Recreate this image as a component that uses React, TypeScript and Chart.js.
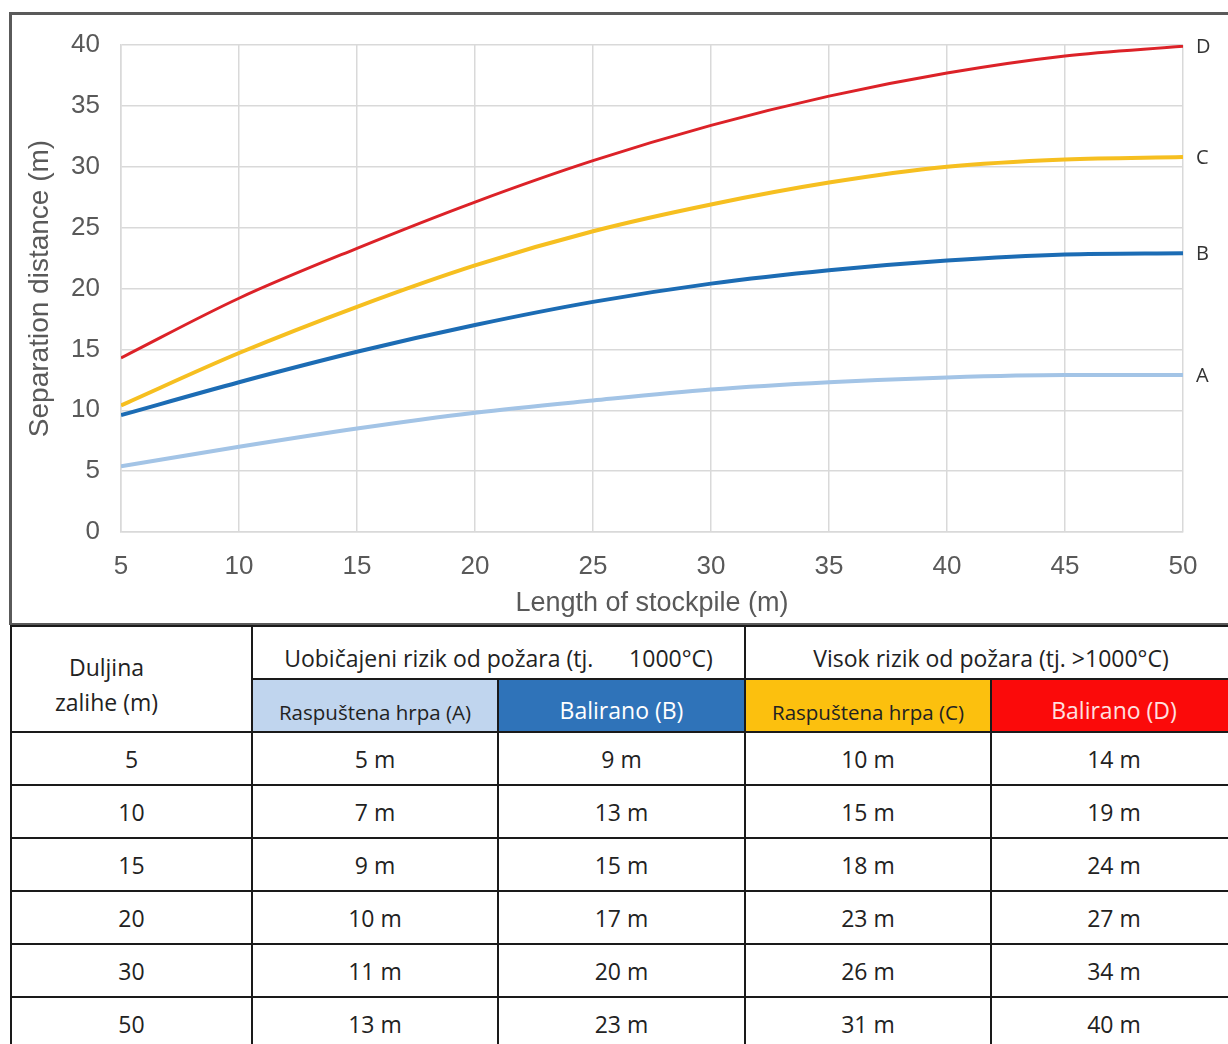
import React, { useEffect, useRef } from "react";
import { Chart, registerables } from "chart.js";

Chart.register(...registerables);

const xLengths = [5, 10, 15, 20, 25, 30, 35, 40, 45, 50];
const seriesA = [5.4, 7.0, 8.5, 9.8, 10.8, 11.7, 12.3, 12.7, 12.9, 12.9];
const seriesB = [9.6, 12.3, 14.8, 17.0, 18.9, 20.4, 21.5, 22.3, 22.8, 22.9];
const seriesC = [10.4, 14.7, 18.5, 21.9, 24.7, 26.9, 28.7, 30.0, 30.6, 30.8];
const seriesD = [14.3, 19.2, 23.3, 27.1, 30.5, 33.4, 35.8, 37.7, 39.1, 39.9];
const seriesLabels = ["A", "B", "C", "D"];

const tableLengths = ["5", "10", "15", "20", "30", "50"];
const tableA = ["5 m", "7 m", "9 m", "10 m", "11 m", "13 m"];
const tableB = ["9 m", "13 m", "15 m", "17 m", "20 m", "23 m"];
const tableC = ["10 m", "15 m", "18 m", "23 m", "26 m", "31 m"];
const tableD = ["14 m", "19 m", "24 m", "27 m", "34 m", "40 m"];

const endLabels = {
  id: "endLabels",
  afterDatasetsDraw(chart: any) {
    const ctx = chart.ctx;
    ctx.save();
    ctx.font = '20px "Open Sans"';
    ctx.fillStyle = "#333333";
    ctx.textBaseline = "middle";
    ctx.textAlign = "left";
    chart.data.datasets.forEach((ds: any, i: number) => {
      const meta = chart.getDatasetMeta(i);
      const pt = meta.data[meta.data.length - 1];
      if (pt) ctx.fillText(ds.label, pt.x + 13, pt.y + 1);
    });
    ctx.restore();
  },
};

function LineChart() {
  const ref = useRef<HTMLCanvasElement | null>(null);
  useEffect(() => {
    if (!ref.current) return;
    const mk = (vals: number[]) => vals.map((v, i) => ({ x: xLengths[i], y: v }));
    const chart = new Chart(ref.current, {
      type: "line",
      data: {
        datasets: [
          { label: seriesLabels[0], data: mk(seriesA), borderColor: "#a3c4e6", borderWidth: 4 },
          { label: seriesLabels[1], data: mk(seriesB), borderColor: "#1c6cb4", borderWidth: 4 },
          { label: seriesLabels[2], data: mk(seriesC), borderColor: "#f6bf20", borderWidth: 4 },
          { label: seriesLabels[3], data: mk(seriesD), borderColor: "#dc2228", borderWidth: 3 },
        ].map((d) => ({ ...d, pointRadius: 0, cubicInterpolationMode: "monotone", fill: false })),
      },
      options: {
        animation: false,
        responsive: true,
        maintainAspectRatio: false,
        layout: { padding: { top: 29, right: 45, left: 0, bottom: 0 } },
        plugins: { legend: { display: false }, tooltip: { enabled: false } },
        scales: {
          x: {
            type: "linear",
            min: 5,
            max: 50,
            ticks: { stepSize: 5, color: "#595959", font: { family: "Liberation Sans", size: 26 }, padding: 19, maxRotation: 0 },
            grid: { color: "#d9d9d9", drawTicks: false, lineWidth: 1.5 },
            border: { color: "#d9d9d9", width: 1.5 },
            title: { display: true, text: "Length of stockpile (m)", color: "#595959", font: { family: "Liberation Sans", size: 27 }, padding: { top: 0, bottom: 5 } },
            afterFit: (s: any) => { s.height = 93; },
          },
          y: {
            min: 0,
            max: 40,
            ticks: { stepSize: 5, color: "#595959", font: { family: "Liberation Sans", size: 26 }, padding: 12 },
            grid: { color: "#d9d9d9", drawTicks: true, tickLength: 9, tickColor: "rgba(0,0,0,0)", lineWidth: 1.5 },
            border: { color: "#d9d9d9", width: 1.5 },
            title: { display: true, text: "Separation distance (m)", color: "#595959", font: { family: "Liberation Sans", size: 28 }, padding: { top: 10, bottom: 0 } },
            afterFit: (s: any) => { s.width = 108; },
          },
        },
      },
      plugins: [endLabels],
    } as any);
    return () => chart.destroy();
  }, []);
  return <canvas ref={ref} />;
}

const cellBase: React.CSSProperties = {
  border: "2px solid #1a1a1a",
  textAlign: "center",
  padding: 0,
  color: "#222",
};

export default function App() {
  const colW = [241, 246, 247, 246, 246];
  const subHead = (bg: string, fg: string, text: string, size: number) => (
    <td style={{ ...cellBase, background: bg, color: fg, fontSize: size, verticalAlign: "bottom", paddingBottom: 5 }}>{text}</td>
  );
  return (
    <div style={{ position: "fixed", left: 0, top: 0, width: "100vw", height: "100vh", overflow: "hidden", background: "#fff" }}>
      <div
        style={{
          position: "absolute",
          left: 9,
          top: 12,
          width: 1260,
          height: 613,
          borderTop: "3px solid #5a5a5a",
          borderLeft: "3px solid #5a5a5a",
          borderBottom: "2px solid #5a5a5a",
          boxSizing: "border-box",
        }}
      />
      <div style={{ position: "absolute", left: 13, top: 16, width: 1215, height: 609 }}>
        <LineChart />
      </div>
      <table
        style={{
          position: "absolute",
          left: 10,
          top: 625,
          borderCollapse: "collapse",
          tableLayout: "fixed",
          width: colW.reduce((a, b) => a + b, 0),
          fontFamily: '"Open Sans", sans-serif',
          fontSize: 23,
        }}
      >
        <colgroup>
          {colW.map((w, i) => (
            <col key={i} style={{ width: w }} />
          ))}
        </colgroup>
        <tbody>
          <tr style={{ height: 53 }}>
            <td rowSpan={2} style={{ ...cellBase, lineHeight: "35px", paddingTop: 12, paddingRight: 50 }}>
              Duljina
              <br />
              zalihe (m)
            </td>
            <td colSpan={2} style={{ ...cellBase, verticalAlign: "bottom", paddingBottom: 4, whiteSpace: "pre" }}>
              {"Uobičajeni rizik od požara (tj.      1000°C)"}
            </td>
            <td colSpan={2} style={{ ...cellBase, verticalAlign: "bottom", paddingBottom: 4 }}>
              Visok rizik od požara (tj. &gt;1000°C)
            </td>
          </tr>
          <tr style={{ height: 53 }}>
            {subHead("#c0d5ee", "#222", "Raspuštena hrpa (A)", 20.5)}
            {subHead("#2f73b9", "#fff", "Balirano (B)", 23)}
            {subHead("#fcc00e", "#222", "Raspuštena hrpa (C)", 20.5)}
            {subHead("#fb0a0a", "#ffe0e0", "Balirano (D)", 23)}
          </tr>
          {tableLengths.map((len, i) => (
            <tr key={len} style={{ height: 53 }}>
              <td style={cellBase}>{len}</td>
              <td style={cellBase}>{tableA[i]}</td>
              <td style={cellBase}>{tableB[i]}</td>
              <td style={cellBase}>{tableC[i]}</td>
              <td style={cellBase}>{tableD[i]}</td>
            </tr>
          ))}
        </tbody>
      </table>
    </div>
  );
}
